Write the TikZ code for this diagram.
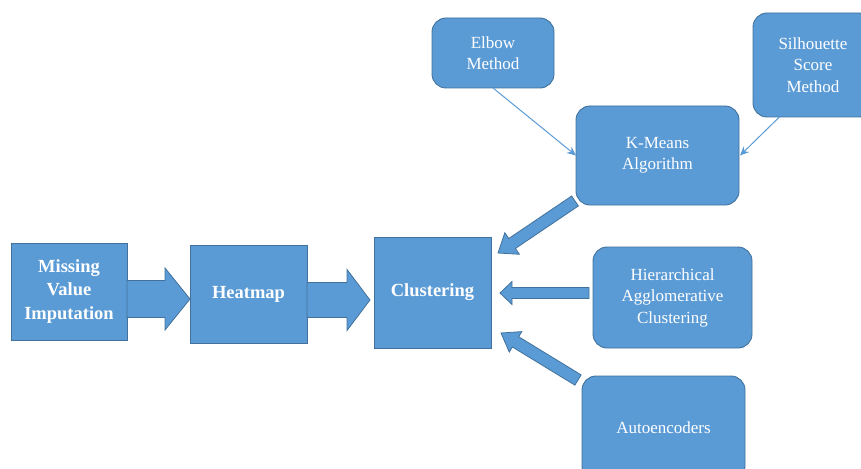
\documentclass[tikz,border=0pt]{standalone}
\usepackage{fontspec}
\setmainfont{Liberation Serif}
\usetikzlibrary{calc,arrows.meta}
\definecolor{boxblue}{HTML}{5B9BD5}
\definecolor{edgeblue}{HTML}{41719C}
% block arrow: from, to, shaft half width, head half width, head length
\newcommand{\blockarr}[5]{%
  \path coordinate (ba-n) at ($(#2)!#5!(#1)$);
  \filldraw[blockarrow]
    ($(#1)!#3!90:(#2)$) -- ($(ba-n)!#3!90:(#2)$) -- ($(ba-n)!#4!90:(#2)$) --
    (#2) -- ($(ba-n)!#4!-90:(#2)$) -- ($(ba-n)!#3!-90:(#2)$) --
    ($(#1)!#3!-90:(#2)$) -- cycle;}
\begin{document}
\begin{tikzpicture}[x=1pt,y=-1pt,
  base/.style={fill=boxblue,draw=edgeblue,line width=0.9pt,text=white,
    align=center,inner sep=0pt,outer sep=0pt},
  sqbox/.style={base,font=\bfseries\fontsize{18.5}{23.5}\selectfont},
  rbox/.style={base,rounded corners=14pt,font=\fontsize{17}{21.5}\selectfont},
  blockarrow/.style={fill=boxblue,draw=edgeblue,line width=0.8pt,line join=miter},
  thin/.style={draw=boxblue,line width=1pt,-{Stealth[length=9pt,width=8pt]}}]
\useasboundingbox (0,0) rectangle (861,468);
\clip (0,0) rectangle (861,468);

\node[sqbox,minimum width=116,minimum height=97] (mvi) at (69,291.5) {Missing\\Value\\Imputation};
\node[sqbox,minimum width=117,minimum height=98] (heat) at (248.5,294) {Heatmap};
\node[sqbox,minimum width=117,minimum height=111] (clust) at (432.5,292.5) {Clustering};

\node[rbox,minimum width=122,minimum height=70] (elbow) at (493,53) {Elbow\\Method};
\node[rbox,minimum width=120,minimum height=104] (sil) at (813,65) {Silhouette\\Score\\Method};
\node[rbox,minimum width=163,minimum height=99] (km) at (657.5,155.5) {K-Means\\Algorithm};
\node[rbox,minimum width=159,minimum height=101] (hier) at (672.5,297.5) {Hierarchical\\Agglomerative\\Clustering};
\node[rbox,minimum width=163,minimum height=104] (auto) at (663.5,428) {Autoencoders};

% thin arrows
\coordinate (silout) at ($(sil.south west)!0.22!(sil.south east)$);
\draw[thin] (elbow.south) -- (km.west);
\draw[thin] (silout) -- ([xshift=1pt]km.east);

% block arrows
\coordinate (a1s) at (mvi.east |- 0,299);
\coordinate (a1e) at (heat.west |- 0,299);
\blockarr{a1s}{a1e}{18.5pt}{31pt}{25pt}

\coordinate (a2s) at (heat.east |- 0,300);
\coordinate (a2e) at ([xshift=-4pt]clust.west |- 0,300);
\blockarr{a2s}{a2e}{17.5pt}{30.5pt}{23pt}

\coordinate (a3s) at ([xshift=-1pt,yshift=4pt]km.south west);
\coordinate (a3e) at ([xshift=7pt,yshift=-16pt]clust.north east);
\blockarr{a3s}{a3e}{6pt}{13pt}{17pt}

\coordinate (a4s) at ([xshift=-4pt]hier.west |- 0,293);
\coordinate (a4e) at ([xshift=9pt]clust.east |- 0,293);
\blockarr{a4s}{a4e}{5.5pt}{11.5pt}{12pt}

\coordinate (a5s) at ([xshift=-4pt,yshift=-4pt]auto.north west);
\coordinate (a5e) at ([xshift=10pt,yshift=15pt]clust.south east);
\blockarr{a5s}{a5e}{6pt}{12pt}{17pt}
\end{tikzpicture}
\end{document}
